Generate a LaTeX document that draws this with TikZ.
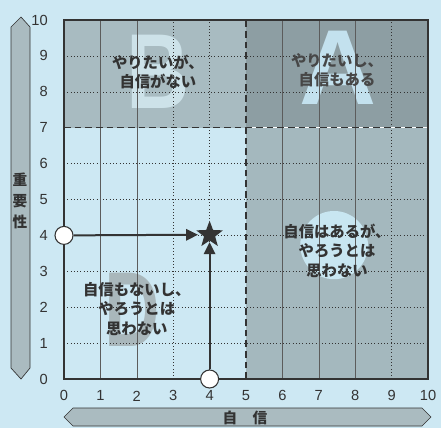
\documentclass[tikz,border=0pt]{standalone}
\usepackage{fontspec}
\setmainfont{Liberation Sans}
\newfontfamily\jp{Noto Sans CJK JP}
\usetikzlibrary{shapes.geometric,arrows.meta}
\definecolor{bg}{HTML}{CDE8F3}
\definecolor{qa}{HTML}{8D9EA3}
\definecolor{qb}{HTML}{A8BBC1}
\definecolor{qc}{HTML}{A4B8BE}
\definecolor{ink}{HTML}{333333}
\definecolor{lettera}{HTML}{C3E1EE}
\definecolor{letterb}{HTML}{CDE2E9}
\definecolor{letterd}{HTML}{A9B7BB}
\definecolor{letterc}{HTML}{C8E6F1}
\definecolor{barfill}{HTML}{AABBC0}
\tikzset{
  gridh/.style={ink, line width=0.45pt, dotted},
  gridv/.style={ink!80, line width=0.45pt},
  gridvd/.style={ink, line width=0.45pt, dotted},
  bound/.style={ink, line width=1.1pt, dash pattern=on 5pt off 3pt},
  ticklab/.style={font=\fontsize{11}{12}\selectfont, text=ink, inner sep=0pt},
  quadtext/.style={font=\jp\bfseries\fontsize{11.5}{14.3}\selectfont, text=ink, align=center, inner sep=0pt},
  bigletter/.style={font=\bfseries\fontsize{80}{80}\selectfont, inner sep=0pt},
  pin/.style={circle, draw=ink, fill=white, line width=0.8pt, minimum size=13.5pt, inner sep=0pt},
  arr/.style={ink, line width=1.5pt, -{Triangle[length=9pt,width=8.5pt]}},
  bar/.style={fill=barfill, draw=ink, line width=0.5pt},
  barlab/.style={font=\jp\bfseries\fontsize{11}{11}\selectfont, text=ink, inner sep=0pt}
}
\begin{document}
\begin{tikzpicture}[x=0.75pt,y=-0.75pt]
\fill[bg] (0,0) rectangle (441,428);
\useasboundingbox (0,0) rectangle (441,428);
% side bars
\draw[bar] (21,17) -- (30,27) -- (30,368) -- (21,379) -- (11,368) -- (11,27) -- cycle;
\node[barlab] (l1) at (20,180) {重};
\node[barlab] (l2) at (20,201) {要};
\node[barlab] (l3) at (20,222) {性};
\draw[bar] (64,417) -- (73,408) -- (422,408) -- (431,417) -- (422,426) -- (73,426) -- cycle;
\node[barlab] (b1) at (230,418) {自};
\node[barlab] (b2) at (260,418) {信};
\begin{scope}[shift={(64,379)},x=27.3pt,y=26.925pt]
  \fill[qb] (0,7) rectangle (5,10);
  \fill[qa] (5,7) rectangle (10,10);
  \fill[qc] (5,0) rectangle (10,7);
  % big letters
  \node[bigletter, text=letterb] (LB) at (2.58,8.55) {\scalebox{0.82}[1]{B}};
  \node[bigletter, text=lettera] (LA) at (7.53,8.66) {A};
  \node[bigletter, text=letterd] (LD) at (1.87,1.92) {\scalebox{0.72}[1]{D}};
  \fill[letterc] (7.42,3.73) ellipse [x radius=0.93, y radius=0.95];
  % grid
  \foreach \y in {1,2,3,4,5,6,8,9} \draw[gridh] (0,\y) -- (10,\y);
  \foreach \x in {1,2,6,7,8} \draw[gridv] (\x,0) -- (\x,10);
  \foreach \x in {3,4,9} \draw[gridvd] (\x,0) -- (\x,10);
  \draw[white, line width=1.1pt] (5,7) -- (10,7);
  \draw[bound] (0,7) -- (10,7);
  \draw[bound] (5,0) -- (5,10);
  \draw[ink, line width=0.9pt] (0,0) rectangle (10,10);
  % tick labels
  \foreach \v in {0,...,10} {
    \node[ticklab, anchor=east] (yl\v) at (-0.44,\v) {\v};
    \node[ticklab] (xl\v) at (\v,-0.47) {\v};
  }
  % texts
  \node[quadtext] (tB) at (2.58,8.55) {やりたいが、\\自信がない};
  \node[quadtext, text=ink!90] (tA) at (7.5,8.61) {やりたいし、\\自信もある};
  \node[quadtext] (tC) at (7.5,3.57) {自信はあるが、\\やろうとは\\思わない};
  \node[quadtext] (tD) at (2.0,1.95) {自信もないし、\\やろうとは\\思わない};
  % markers
  \node[star, star points=5, star point ratio=2.4, fill=ink, minimum size=21pt, inner sep=0pt] (st) at (4,4.02) {};
  \node[pin] (c1) at (0,4) {};
  \node[pin] (c2) at (4,0) {};
  \draw[arr, shorten >=2.5pt] (c1) -- (st);
  \draw[arr, shorten >=1pt] (c2) -- (st);
\end{scope}
\end{tikzpicture}
\end{document}
